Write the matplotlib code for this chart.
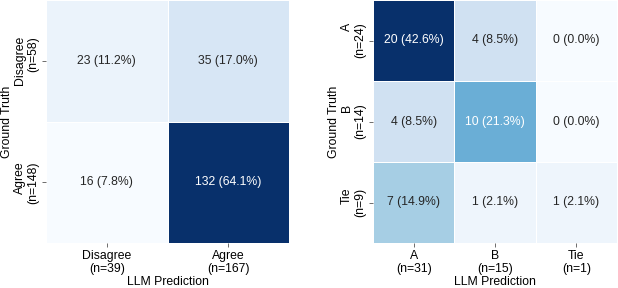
import numpy as np
import matplotlib
matplotlib.use("Agg")
import matplotlib.pyplot as plt
import seaborn as sns

plt.rcParams['font.family'] = ['Liberation Sans', 'DejaVu Sans']

# binary agreement confusion matrix
bin_labels = ['Disagree', 'Agree']
bin_counts = np.array([[23, 35],
                       [16, 132]])

# pairwise preference confusion matrix
pref_labels = ['A', 'B', 'Tie']
pref_counts = np.array([[20, 4, 0],
                        [4, 10, 0],
                        [7, 1, 1]])

FS = 8.8


def drawMatrix(ax, counts, labels):
    total = counts.sum()
    annot = np.array([['%d (%.1f%%)' % (v, 100.0 * v / total) for v in row]
                      for row in counts])
    sns.heatmap(counts, ax=ax, cmap='Blues', annot=annot, fmt='',
                cbar=False, linewidths=0.5, linecolor='white',
                annot_kws={'fontsize': FS})
    xlabs = ['%s\n(n=%d)' % (l, n) for l, n in zip(labels, counts.sum(axis=0))]
    ylabs = ['%s\n(n=%d)' % (l, n) for l, n in zip(labels, counts.sum(axis=1))]
    ax.set_xticklabels(xlabs, fontsize=FS, rotation=0, linespacing=1.1)
    ax.set_yticklabels(ylabs, fontsize=FS, rotation=90, va='center',
                       linespacing=1.1)
    ax.tick_params(length=3, pad=2, width=0.6, color='#555555')
    ax.set_xlabel('LLM Prediction', fontsize=FS, labelpad=1)
    ax.set_ylabel('Ground Truth', fontsize=FS, labelpad=1)


fig = plt.figure(figsize=(6.18, 2.88), dpi=100)
ax1 = fig.add_axes([46 / 618, 45 / 288, 243 / 618, 243 / 288])
ax2 = fig.add_axes([373 / 618, 45 / 288, 244 / 618, 243 / 288])

drawMatrix(ax1, bin_counts, bin_labels)
drawMatrix(ax2, pref_counts, pref_labels)

fig.savefig('out.png', dpi=100)
